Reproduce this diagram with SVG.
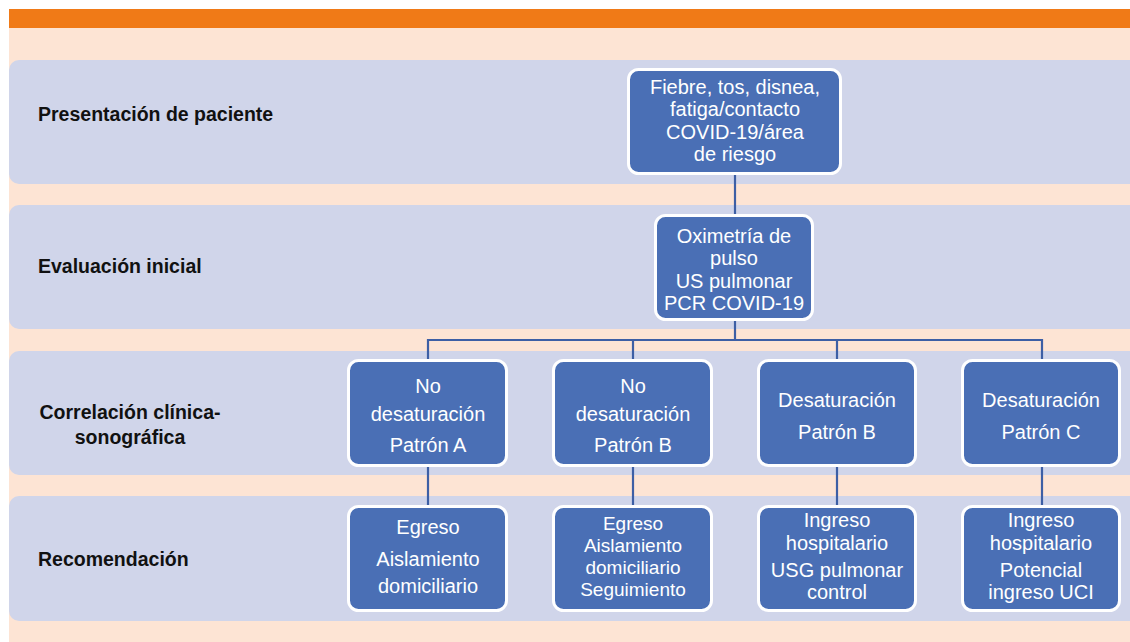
<svg xmlns="http://www.w3.org/2000/svg" width="1130" height="642" viewBox="0 0 1130 642">
<style>
.band{fill:#d0d5ea}
.node rect{fill:#4a6fb5;stroke:#ffffff;stroke-width:3}
.node text{font-family:"Liberation Sans",Arial,sans-serif;font-size:20px;fill:#ffffff;text-anchor:middle}
.node text.sm{font-size:19px}
.lbl{font-family:"Liberation Sans",Arial,sans-serif;font-size:19.5px;font-weight:bold;fill:#111111}
.conn line{stroke:#3d5fa5;stroke-width:2.2;fill:none}
</style>
<rect x="0" y="0" width="1130" height="642" fill="#ffffff"/>
<rect x="9" y="9" width="1121" height="19" fill="#f07a17"/>
<rect x="9" y="28" width="1121" height="614" fill="#fde4d4"/>
<g id="bands">
<path class="band" d="M19 60H1130V184H19a10 10 0 0 1-10-10V70a10 10 0 0 1 10-10z"/>
<path class="band" d="M19 205H1130V329H19a10 10 0 0 1-10-10V215a10 10 0 0 1 10-10z"/>
<path class="band" d="M19 351H1130V475H19a10 10 0 0 1-10-10V361a10 10 0 0 1 10-10z"/>
<path class="band" d="M19 496H1130V621H19a10 10 0 0 1-10-10V506a10 10 0 0 1 10-10z"/>
</g>
<g id="labels">
<text class="lbl" x="38" y="121">Presentación de paciente</text>
<text class="lbl" x="38" y="273">Evaluación inicial</text>
<text class="lbl" x="130" y="419" text-anchor="middle">Correlación clínica-</text>
<text class="lbl" x="130" y="444" text-anchor="middle">sonográfica</text>
<text class="lbl" x="38" y="566">Recomendación</text>
</g>
<g id="connectors" class="conn">
<line x1="735" y1="175" x2="735" y2="214"/>
<line x1="735" y1="321" x2="735" y2="340"/>
<line x1="427" y1="340" x2="1043" y2="340"/>
<line x1="428" y1="339" x2="428" y2="359"/>
<line x1="633" y1="339" x2="633" y2="359"/>
<line x1="837" y1="339" x2="837" y2="359"/>
<line x1="1042" y1="339" x2="1042" y2="359"/>
<line x1="428" y1="467" x2="428" y2="505"/>
<line x1="633" y1="467" x2="633" y2="505"/>
<line x1="837" y1="467" x2="837" y2="505"/>
<line x1="1042" y1="467" x2="1042" y2="505"/>
</g>
<g id="n1" class="node">
<rect x="628.5" y="69.5" width="212" height="104" rx="10"/>
<text x="735" y="94">Fiebre, tos, disnea,</text>
<text x="735" y="116">fatiga/contacto</text>
<text x="735" y="139">COVID-19/área</text>
<text x="735" y="161">de riesgo</text>
</g>
<g id="n2" class="node">
<rect x="655.5" y="215.5" width="157" height="104" rx="10"/>
<text x="734" y="243">Oximetría de</text>
<text x="734" y="265">pulso</text>
<text x="734" y="288">US pulmonar</text>
<text x="734" y="310">PCR COVID-19</text>
</g>
<g id="n3a" class="node">
<rect x="348.5" y="360.5" width="158" height="105" rx="10"/>
<text x="428" y="393">No</text>
<text x="428" y="421">desaturación</text>
<text x="428" y="452">Patrón A</text>
</g>
<g id="n3b" class="node">
<rect x="553.5" y="360.5" width="158" height="105" rx="10"/>
<text x="633" y="393">No</text>
<text x="633" y="421">desaturación</text>
<text x="633" y="452">Patrón B</text>
</g>
<g id="n3c" class="node">
<rect x="758.5" y="360.5" width="157" height="105" rx="10"/>
<text x="837" y="407">Desaturación</text>
<text x="837" y="439">Patrón B</text>
</g>
<g id="n3d" class="node">
<rect x="962.5" y="360.5" width="157" height="105" rx="10"/>
<text x="1041" y="407">Desaturación</text>
<text x="1041" y="439">Patrón C</text>
</g>
<g id="n4a" class="node">
<rect x="348.5" y="506.5" width="158" height="104" rx="10"/>
<text x="428" y="534">Egreso</text>
<text x="428" y="566">Aislamiento</text>
<text x="428" y="593">domiciliario</text>
</g>
<g id="n4b" class="node">
<rect x="553.5" y="506.5" width="158" height="104" rx="10"/>
<text class="sm" x="633" y="530">Egreso</text>
<text class="sm" x="633" y="552">Aislamiento</text>
<text class="sm" x="633" y="574">domiciliario</text>
<text class="sm" x="633" y="596">Seguimiento</text>
</g>
<g id="n4c" class="node">
<rect x="758.5" y="506.5" width="157" height="104" rx="10"/>
<text x="837" y="527">Ingreso</text>
<text x="837" y="550">hospitalario</text>
<text x="837" y="577">USG pulmonar</text>
<text x="837" y="599">control</text>
</g>
<g id="n4d" class="node">
<rect x="962.5" y="506.5" width="157" height="104" rx="10"/>
<text x="1041" y="527">Ingreso</text>
<text x="1041" y="550">hospitalario</text>
<text x="1041" y="577">Potencial</text>
<text x="1041" y="599">ingreso UCI</text>
</g>
</svg>
